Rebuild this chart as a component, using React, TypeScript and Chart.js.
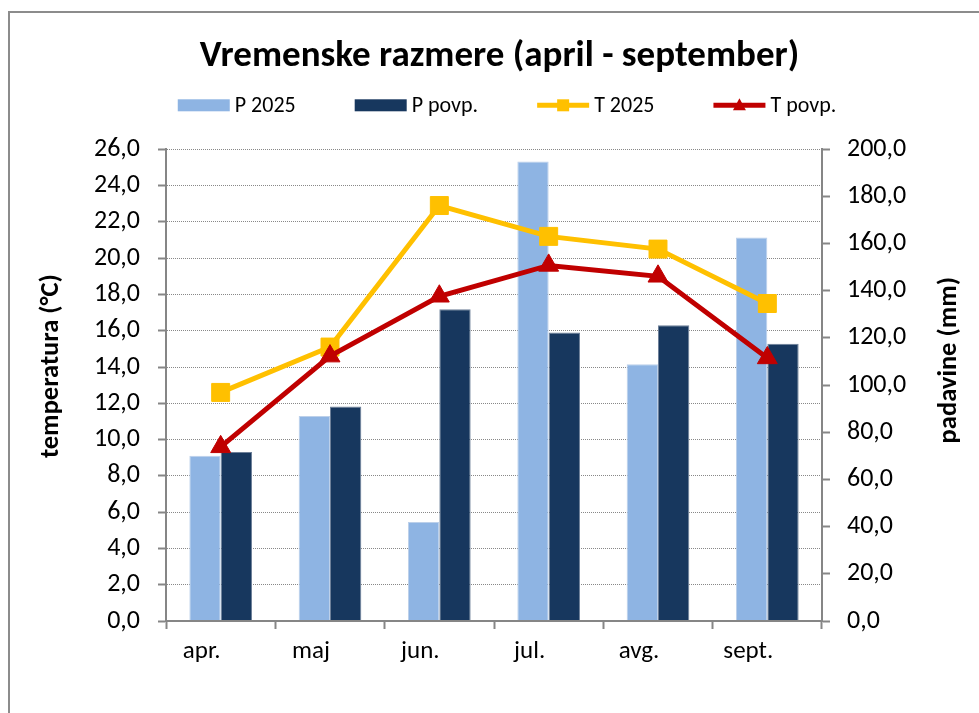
import React, { useEffect, useRef } from 'react';
import { Chart, registerables } from 'chart.js';

Chart.register(...registerables);

// ---- data ----
const months = ['apr.', 'maj', 'jun.', 'jul.', 'avg.', 'sept.'];
const p2025 = [70.1, 86.9, 42.0, 194.8, 108.9, 162.6];
const pPovp = [71.7, 90.9, 132.2, 122.3, 125.4, 117.6];
const t2025 = [12.6, 15.1, 22.9, 21.2, 20.5, 17.5];
const tPovp = [9.6, 14.6, 17.9, 19.6, 19.0, 14.5];
const seriesLabels = ['P 2025', 'P povp.', 'T 2025', 'T povp.'];
const tempRange = [0, 26, 2];
const precRange = [0, 200, 20];
const chartTitle = 'Vremenske razmere (april - september)';
const leftAxisTitle = 'temperatura (°C)';
const rightAxisTitle = 'padavine (mm)';

const FONT = "Carlito, Calibri, Lato, 'Liberation Sans', sans-serif";
const AXIS_GRAY = '#868686';
const fmt = (v: number) => Number(v).toFixed(1).replace('.', ',');

const overlayPlugin = {
  id: 'overlay',
  afterDraw(chart: any) {
    const { ctx, chartArea } = chart;
    ctx.save();
    ctx.fillStyle = '#000';
    ctx.textAlign = 'center';
    ctx.textBaseline = 'middle';
    ctx.font = `bold 26.5px ${FONT}`;
    const midY = (chartArea.top + chartArea.bottom) / 2;
    ctx.save();
    ctx.translate(chartArea.left - 115, midY - 19);
    ctx.rotate(-Math.PI / 2);
    ctx.fillText(leftAxisTitle, 0, 0);
    ctx.restore();
    ctx.save();
    ctx.translate(chartArea.right + 127, midY - 25);
    ctx.rotate(-Math.PI / 2);
    ctx.fillText(rightAxisTitle, 0, 0);
    ctx.restore();

    // legend
    const ds = chart.data.datasets;
    ctx.font = `22px ${FONT}`;
    ctx.textAlign = 'left';
    const y = chartArea.top - 44;
    const boxW = 52;
    const gapText = 5;
    const gapItem = 59;
    const widths = ds.map((d: any) => ctx.measureText(d.label).width);
    const total =
      widths.reduce((a: number, w: number) => a + boxW + gapText + w, 0) + gapItem * (ds.length - 1);
    let x = (chartArea.left + chartArea.right) / 2 + 13 - total / 2;
    ds.forEach((d: any, i: number) => {
      if (d.type === 'line') {
        ctx.strokeStyle = d.borderColor;
        ctx.lineWidth = 5;
        ctx.beginPath();
        ctx.moveTo(x, y);
        ctx.lineTo(x + boxW, y);
        ctx.stroke();
        ctx.fillStyle = d.backgroundColor;
        const cx = x + boxW / 2;
        if (d.pointStyle === 'rect') {
          ctx.fillRect(cx - 6, y - 6, 12, 12);
        } else {
          ctx.beginPath();
          ctx.moveTo(cx, y - 7);
          ctx.lineTo(cx + 6.5, y + 5);
          ctx.lineTo(cx - 6.5, y + 5);
          ctx.closePath();
          ctx.fill();
        }
      } else {
        ctx.fillStyle = d.backgroundColor;
        ctx.fillRect(x, y - 6, boxW, 12);
      }
      ctx.fillStyle = '#000';
      ctx.fillText(d.label, x + boxW + gapText, y + 1);
      x += boxW + gapText + widths[i] + gapItem;
    });
    ctx.restore();
  },
};

export default function App() {
  const ref = useRef<HTMLCanvasElement | null>(null);

  useEffect(() => {
    if (!ref.current) return;
    const chart = new Chart(ref.current, {
      type: 'bar',
      data: {
        labels: months,
        datasets: [
          {
            type: 'bar',
            label: seriesLabels[0],
            data: p2025,
            yAxisID: 'yP',
            backgroundColor: '#8EB4E3',
            borderColor: '#BCD0EA',
            borderWidth: 1,
            categoryPercentage: 0.573,
            barPercentage: 1,
            order: 2,
          },
          {
            type: 'bar',
            label: seriesLabels[1],
            data: pPovp,
            yAxisID: 'yP',
            backgroundColor: '#17375E',
            borderColor: '#6E8099',
            borderWidth: 1,
            categoryPercentage: 0.573,
            barPercentage: 1,
            order: 2,
          },
          {
            type: 'line',
            label: seriesLabels[2],
            data: t2025,
            yAxisID: 'yT',
            borderColor: '#FFC000',
            backgroundColor: '#FFC000',
            borderWidth: 5,
            pointStyle: 'rect',
            pointRadius: 12.7,
            pointBorderWidth: 1,
            pointBackgroundColor: '#FFC000',
            pointBorderColor: '#FFC000',
            tension: 0,
            order: 1,
          },
          {
            type: 'line',
            label: seriesLabels[3],
            data: tPovp,
            yAxisID: 'yT',
            borderColor: '#C00000',
            backgroundColor: '#C00000',
            borderWidth: 5,
            pointStyle: 'triangle',
            pointRadius: 11.5,
            pointBorderWidth: 1,
            pointBackgroundColor: '#C00000',
            pointBorderColor: '#C00000',
            tension: 0,
            order: 0,
          },
        ] as any,
      },
      options: {
        responsive: false,
        maintainAspectRatio: false,
        animation: false,
        layout: { padding: { left: 10, right: 0, top: 0, bottom: 0 } },
        plugins: {
          legend: { display: false },
          tooltip: { enabled: false },
          title: {
            display: true,
            text: chartTitle,
            color: '#000',
            font: { family: FONT, size: 37, weight: 'bold' },
            padding: { top: 21.6, bottom: 70.3 },
          },
        },
        scales: {
          x: {
            type: 'category',
            grid: {
              offset: true,
              drawOnChartArea: false,
              drawTicks: true,
              tickLength: 8,
              tickWidth: 2,
              tickColor: AXIS_GRAY,
            },
            border: { color: AXIS_GRAY, width: 2, z: 1 },
            ticks: {
              color: '#000',
              font: { family: FONT, size: 25 },
              padding: 8,
              labelOffset: -19,
              autoSkip: false,
              maxRotation: 0,
            },
            afterFit(s: any) {
              s.height = 92;
            },
          },
          yT: {
            type: 'linear',
            position: 'left',
            min: tempRange[0],
            max: tempRange[1],
            grid: {
              color: '#888888',
              lineWidth: 1,
              drawTicks: true,
              tickLength: 8,
              tickWidth: 2,
              tickColor: AXIS_GRAY,
              tickBorderDash: [],
            },
            border: { color: AXIS_GRAY, width: 2, dash: [1, 1] },
            ticks: {
              stepSize: tempRange[2],
              color: '#000',
              font: { family: FONT, size: 26 },
              padding: 18,
              callback: (v: any) => fmt(v),
            },
            afterFit(s: any) {
              s.width = 146;
            },
          },
          yP: {
            type: 'linear',
            position: 'right',
            min: precRange[0],
            max: precRange[1],
            grid: {
              drawOnChartArea: false,
              drawTicks: true,
              tickLength: 8,
              tickWidth: 2,
              tickColor: AXIS_GRAY,
            },
            border: { color: AXIS_GRAY, width: 2 },
            ticks: {
              stepSize: precRange[2],
              color: '#000',
              font: { family: FONT, size: 26 },
              padding: 17,
              callback: (v: any) => fmt(v),
            },
            afterFit(s: any) {
              s.width = 157;
            },
          },
        },
      } as any,
      plugins: [overlayPlugin],
    });
    return () => chart.destroy();
  }, []);

  return (
    <div
      style={{
        position: 'absolute',
        left: 8,
        top: 11,
        width: 971,
        height: 702,
        borderLeft: '2px solid #8c8c8c',
        borderTop: '2px solid #8c8c8c',
        background: '#fff',
      }}
    >
      <canvas ref={ref} width={969} height={700} style={{ display: 'block' }} />
    </div>
  );
}
